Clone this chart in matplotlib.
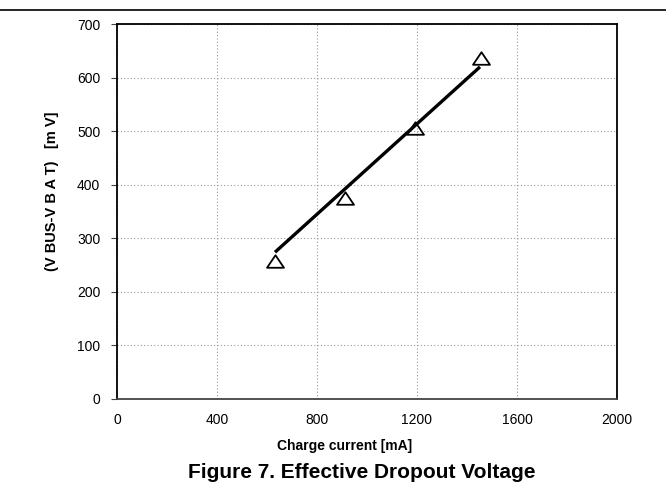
import matplotlib
matplotlib.use("Agg")
import matplotlib.pyplot as plt
from matplotlib.path import Path

current_ma = [632, 912, 1193, 1455]
dropout_mv = [258, 375, 505, 636]
trend_x = [632, 1452]
trend_y = [274, 620]
x_ticks = [0, 400, 800, 1200, 1600, 2000]
y_ticks = [0, 100, 200, 300, 400, 500, 600, 700]

plt.rcParams['font.family'] = ['Liberation Sans', 'DejaVu Sans']

W, H = 666, 501
fig = plt.figure(figsize=(W/100, H/100), dpi=100)
ax = fig.add_axes([117/W, 1-399/H, (617-117)/W, (399-24)/H])

tri = Path([(0, 0.74), (-1, -0.74), (1, -0.74), (0, 0.74)],
           [Path.MOVETO, Path.LINETO, Path.LINETO, Path.CLOSEPOLY])

ax.plot(trend_x, trend_y, color='black', lw=2.4, solid_capstyle='butt', zorder=3)
ax.plot(current_ma, dropout_mv, ls='none', marker=tri, ms=12.2, mfc='none',
        mec='black', mew=1.3, zorder=4)

ax.set_xlim(0, 2000)
ax.set_ylim(0, 700)
ax.set_xticks(x_ticks)
ax.set_yticks(y_ticks)
ax.tick_params(axis='both', labelsize=10, length=4, width=0.8, direction='out',
               color='#444444')
ax.tick_params(axis='y', pad=8)
ax.tick_params(axis='x', length=0, pad=10)
ax.grid(True, color='#999999', ls=(0, (1, 2)), lw=0.8)
for s in ax.spines.values():
    s.set_linewidth(1.3)
    s.set_color('black')
ax.spines['bottom'].set_color('#444444')

fig.text(345/W, 1-446/H, 'Charge current [mA]', ha='center', va='center',
         fontsize=10, fontweight='bold')
fig.text(52/W, 1-191/H, '(V BUS-V B A T)   [m V]', ha='center', va='center',
         rotation=90, fontsize=10.5, fontweight='bold')
fig.text(362/W, 1-473/H, 'Figure 7. Effective Dropout Voltage', ha='center', va='center',
         fontsize=15, fontweight='bold')
fig.add_artist(plt.Line2D([0, 1], [1-10/H, 1-10/H], color='black', lw=1.2,
                          transform=fig.transFigure))

fig.savefig('out.png', dpi=100)
